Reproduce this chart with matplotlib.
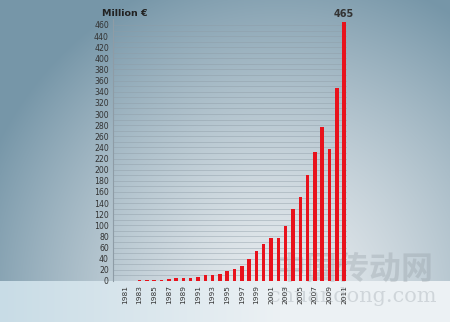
import numpy as np
import matplotlib
matplotlib.use("Agg")
import matplotlib.pyplot as plt

years = list(range(1981, 2012))
revenue = [0.3, 0.5, 1, 1.2, 1.5, 2, 3, 4.5, 5.4, 6, 8, 10, 11, 12.6, 17.4, 22,
           27, 39, 54.6, 66, 77, 77, 98, 129, 151, 190, 232, 277, 237, 346, 465]
yticks = list(range(0, 461, 20))
year_labels = [str(y) if (y - 1981) % 2 == 0 else "" for y in years]

W, H = 450, 322
fig = plt.figure(figsize=(W / 100, H / 100), dpi=100)

# backdrop: bluish grey at the edges, light spot behind the lower middle
bg = fig.add_axes([0, 0, 1, 1])
yy, xx = np.mgrid[0:H, 0:W]
d = np.sqrt(((xx - 280) / 320.0) ** 2 + ((yy - 300) / 340.0) ** 2)
t = np.clip(d, 0, 1) ** 1.4
light = np.array([232, 236, 239]) / 255
dark = np.array([118, 150, 168]) / 255
img = light[None, None, :] * (1 - t[..., None]) + dark[None, None, :] * t[..., None]
# floor strip under the baseline
floor = yy >= 281
ft = np.clip(1 - xx / 280.0, 0, 1)[..., None]
floor_col = np.array([236, 241, 244]) / 255 * (1 - ft) + np.array([200, 220, 230]) / 255 * ft
img = np.where(floor[..., None], floor_col, img)
bg.imshow(img, extent=[0, W, H, 0], aspect="auto", interpolation="bilinear")
bg.set_xlim(0, W)
bg.set_ylim(H, 0)
bg.axis("off")

# watermark
bg.text(353, 270, "中国传动网", fontsize=23, ha="center", va="center",
        color="#8d979e", alpha=0.3, family=["Noto Sans CJK SC", "DejaVu Sans"],
        fontweight="bold")
bg.text(353, 296, "chuandong.com", fontsize=15, ha="center", va="center",
        color="#8d979e", alpha=0.3, family="DejaVu Serif")

ax = fig.add_axes([113 / W, (H - 281) / H, (347 - 113) / W, (281 - 19.4) / H])
ax.patch.set_alpha(0)
x = np.arange(len(years))
ax.bar(x, revenue, width=0.48, color="#e8121c", zorder=3)
ax.set_xlim(-1.64, 30.4)
ax.set_ylim(0, 470)

for v in range(10, 461, 10):
    ax.axhline(v, color="#8e9ca6", lw=0.6, alpha=0.5, zorder=1)

ax.set_yticks(yticks)
ax.set_yticklabels([str(v) for v in yticks], fontsize=5.6, color="#333333")
ax.set_xticks(x)
ax.set_xticklabels(year_labels, rotation=90, fontsize=5.3, color="#333333")
ax.tick_params(length=0, pad=3)
for s in ["top", "right", "bottom"]:
    ax.spines[s].set_visible(False)
ax.spines["left"].set_color("#8e9ca6")
ax.spines["left"].set_linewidth(0.8)

ax.text(x[-1], revenue[-1] + 6, f"{revenue[-1]:g}", ha="center", va="bottom",
        fontsize=7, color="#333333", fontweight="bold")
fig.text(102 / W, 1 - 14 / H, "Million €", ha="left", va="center",
         fontsize=6.8, color="#222222", fontweight="bold")

fig.savefig("out.png", dpi=100)
